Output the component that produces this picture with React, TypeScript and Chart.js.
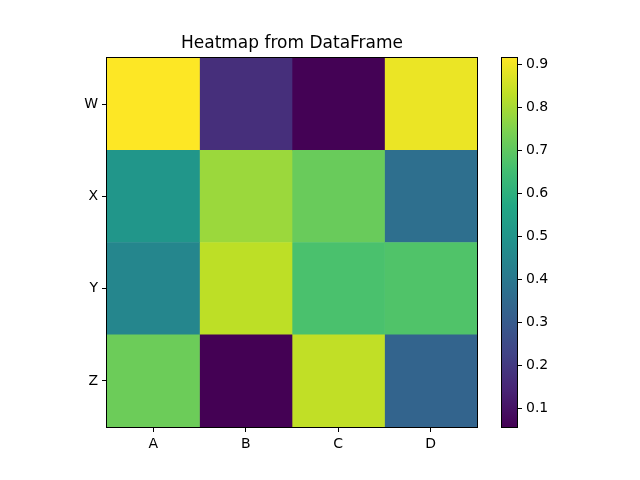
import React, { useEffect, useRef } from "react";
import { Chart, registerables } from "chart.js";

Chart.register(...registerables);

const rowLabels = ["W", "X", "Y", "Z"];
const colLabels = ["A", "B", "C", "D"];
const valuesW = [0.914, 0.171, 0.058, 0.89];
const valuesX = [0.504, 0.785, 0.716, 0.368];
const valuesY = [0.447, 0.828, 0.666, 0.676];
const valuesZ = [0.72, 0.056, 0.833, 0.331];
const colorbarTicks = [0.1, 0.2, 0.3, 0.4, 0.5, 0.6, 0.7, 0.8, 0.9];

const grid = [valuesW, valuesX, valuesY, valuesZ];
const allValues = grid.flat();
const vmin = Math.min(...allValues);
const vmax = Math.max(...allValues);

const VIRIDIS = [
  "#440154", "#482475", "#414487", "#355f8d", "#2a788e", "#21918c",
  "#22a884", "#44bf70", "#7ad151", "#bddf26", "#fde725",
];

function hexToRgb(h: string) {
  return [parseInt(h.slice(1, 3), 16), parseInt(h.slice(3, 5), 16), parseInt(h.slice(5, 7), 16)];
}

function viridis(t: number) {
  const tt = Math.max(0, Math.min(1, t)) * (VIRIDIS.length - 1);
  const i = Math.min(Math.floor(tt), VIRIDIS.length - 2);
  const f = tt - i;
  const a = hexToRgb(VIRIDIS[i]);
  const b = hexToRgb(VIRIDIS[i + 1]);
  const c = a.map((v, k) => Math.round(v + (b[k] - v) * f));
  return `rgb(${c[0]},${c[1]},${c[2]})`;
}

const FONT = "'DejaVu Sans', sans-serif";
const PLOT = { left: 107, right: 477, top: 58, bottom: 427 };
const CBAR = { left: 502, right: 517 };

export default function App() {
  const mainRef = useRef<HTMLCanvasElement>(null);
  const cbarRef = useRef<HTMLCanvasElement>(null);

  useEffect(() => {
    const datasets = colLabels.map((c, j) => ({
      label: c,
      data: rowLabels.map(() => [j, j + 1]),
      backgroundColor: rowLabels.map((_, i) => viridis((grid[i][j] - vmin) / (vmax - vmin))),
      borderWidth: 0,
      barPercentage: 1,
      categoryPercentage: 1,
      grouped: false,
    }));

    const framePlugin = {
      id: "frame",
      afterDraw(chart: any) {
        const { ctx, chartArea } = chart;
        ctx.save();
        ctx.strokeStyle = "#000";
        ctx.lineWidth = 1;
        ctx.strokeRect(
          Math.round(chartArea.left) - 0.5,
          Math.round(chartArea.top) - 0.5,
          Math.round(chartArea.right - chartArea.left) + 1,
          Math.round(chartArea.bottom - chartArea.top) + 1
        );
        ctx.fillStyle = "#000";
        ctx.font = `17px ${FONT}`;
        ctx.textAlign = "center";
        ctx.textBaseline = "middle";
        ctx.fillText("Heatmap from DataFrame", (chartArea.left + chartArea.right) / 2, 43.5);
        ctx.restore();
      },
    };

    const main = new Chart(mainRef.current!, {
      type: "bar",
      data: { labels: rowLabels, datasets: datasets as any },
      options: {
        indexAxis: "y",
        animation: false,
        responsive: false,
        layout: { padding: { left: 0, top: PLOT.top, right: 640 - PLOT.right, bottom: 0 } },
        plugins: { legend: { display: false }, tooltip: { enabled: false }, title: { display: false } },
        scales: {
          x: {
            type: "linear",
            min: 0,
            max: colLabels.length,
            afterBuildTicks: (axis: any) => {
              axis.ticks = colLabels.map((_, j) => ({ value: j + 0.5 }));
            },
            afterFit: (axis: any) => {
              axis.height = 480 - PLOT.bottom;
            },
            ticks: {
              color: "#000",
              font: { family: FONT, size: 14 },
              padding: 4,
              maxRotation: 0,
              callback: (_v: any, idx: number) => colLabels[idx],
            },
            grid: { drawOnChartArea: false, drawTicks: true, tickLength: 5, color: "#000" },
            border: { display: false },
          },
          y: {
            type: "category",
            afterFit: (axis: any) => {
              axis.width = PLOT.left;
            },
            ticks: { color: "#000", font: { family: FONT, size: 14 }, padding: 4 },
            grid: { drawOnChartArea: false, drawTicks: true, tickLength: 5, color: "#000", offset: false },
            border: { display: false },
          },
        },
      },
      plugins: [framePlugin],
    });

    const cbarFrame = {
      id: "cbarFrame",
      afterDraw(chart: any) {
        const { ctx, chartArea } = chart;
        ctx.save();
        ctx.strokeStyle = "#000";
        ctx.lineWidth = 1;
        ctx.strokeRect(
          Math.round(chartArea.left) - 0.5,
          Math.round(chartArea.top) - 0.5,
          Math.round(chartArea.right - chartArea.left) + 1,
          Math.round(chartArea.bottom - chartArea.top) + 1
        );
        ctx.restore();
      },
    };

    const cbar = new Chart(cbarRef.current!, {
      type: "bar",
      data: {
        labels: ["cbar"],
        datasets: [
          {
            data: [[vmin, vmax]] as any,
            barPercentage: 1,
            categoryPercentage: 1,
            borderWidth: 0,
            backgroundColor: (ctx: any) => {
              const area = ctx.chart.chartArea;
              if (!area) return "#888";
              const g = ctx.chart.ctx.createLinearGradient(0, area.bottom, 0, area.top);
              for (let k = 0; k <= 50; k++) g.addColorStop(k / 50, viridis(k / 50));
              return g;
            },
          },
        ],
      },
      options: {
        animation: false,
        responsive: false,
        layout: { padding: { left: CBAR.left, top: PLOT.top, right: 0, bottom: 480 - PLOT.bottom } },
        plugins: { legend: { display: false }, tooltip: { enabled: false } },
        scales: {
          x: { display: false },
          y: {
            type: "linear",
            position: "right",
            min: vmin,
            max: vmax,
            afterBuildTicks: (axis: any) => {
              axis.ticks = colorbarTicks.map((v) => ({ value: v }));
            },
            afterFit: (axis: any) => {
              axis.width = 640 - CBAR.right;
            },
            ticks: {
              color: "#000",
              font: { family: FONT, size: 14 },
              padding: 4,
              callback: (v: any) => Number(v).toFixed(1),
            },
            grid: { drawOnChartArea: false, drawTicks: true, tickLength: 5, color: "#000" },
            border: { display: false },
          },
        },
      },
      plugins: [cbarFrame],
    });

    return () => {
      main.destroy();
      cbar.destroy();
    };
  }, []);

  return (
    <div style={{ position: "fixed", left: 0, top: 0, width: 640, height: 480, background: "#fff" }}>
      <canvas ref={mainRef} width={640} height={480} style={{ position: "absolute", left: 0, top: 0 }} />
      <canvas ref={cbarRef} width={640} height={480} style={{ position: "absolute", left: 0, top: 0 }} />
    </div>
  );
}
